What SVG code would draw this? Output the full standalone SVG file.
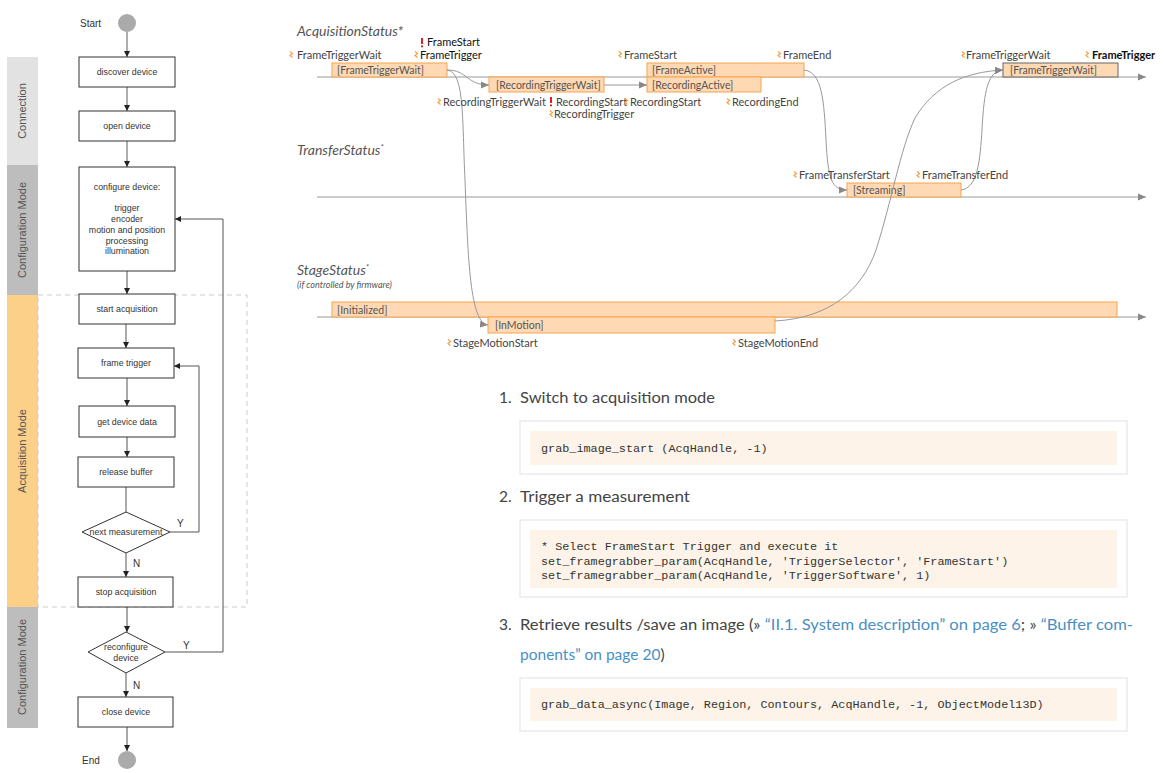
<svg xmlns="http://www.w3.org/2000/svg" xmlns:xlink="http://www.w3.org/1999/xlink" width="1171" height="773" viewBox="0 0 1171 773">
<style>
.fbox{fill:#fff;stroke:#333;stroke-width:1}
.ft{font-family:"Liberation Sans",Arial,sans-serif;font-size:8.8px;fill:#333;text-anchor:middle}
.fl{font-family:"Liberation Sans",Arial,sans-serif;font-size:10px;fill:#333}
.lane{font-family:"Liberation Sans",Arial,sans-serif;font-size:11px;fill:#555;text-anchor:middle}
.fc{fill:none;stroke:#555;stroke-width:1}
.fcg{fill:none;stroke:#999;stroke-width:1.6}
.axis{fill:none;stroke:#999;stroke-width:1.2}
.cv{fill:none;stroke:#999;stroke-width:1}
.sb{fill:#fed9b4;stroke:#f7a34e;stroke-width:1}
.sb2{fill:#fed9b4;stroke:#666;stroke-width:1}
.bt{font-family:Lato,"Open Sans",sans-serif;font-size:10.5px;fill:#555}
.ev{font-family:Lato,"Open Sans",sans-serif;font-size:11px;fill:#444}
.evd{font-family:Lato,"Open Sans",sans-serif;font-size:11px;fill:#111}
.tt{font-family:Lato,"Open Sans",sans-serif;font-size:14px;font-style:italic;fill:#555}
.st{font-family:Lato,"Open Sans",sans-serif;font-size:9px;font-style:italic;fill:#555}
.li{font-family:Lato,"Open Sans",sans-serif;font-size:15.5px;fill:#444}
.lk{fill:#4a8fc6}
.cout{fill:#fff;stroke:#e6e6e6;stroke-width:1.2}
.cin{fill:#fdf3e8}
.code{font-family:"Liberation Mono","DejaVu Sans Mono",monospace;font-size:11.8px;fill:#333}
</style>
<defs>
<marker id="fa" viewBox="0 0 6 6" refX="6" refY="3" markerWidth="6" markerHeight="6" orient="auto" markerUnits="userSpaceOnUse"><path d="M0,0 L6,3 L0,6 Z" fill="#222"/></marker>
<marker id="ga" viewBox="0 0 8 8" refX="8" refY="4" markerWidth="8" markerHeight="8" orient="auto" markerUnits="userSpaceOnUse"><path d="M0,0.5 L8,4 L0,7.5 Z" fill="#888"/></marker>
<g id="evo"><path d="M0,-3.5 L2.5,-1.5 L0,0.5 L2.5,2.5" fill="none" stroke="#f5a04a" stroke-width="1.2"/></g>
<g id="evr"><rect x="0" y="-5" width="2" height="6" fill="#e02020"/><rect x="0" y="2.5" width="2" height="1.8" fill="#e02020"/></g>
</defs>

<!-- lanes -->
<g id="lanes">
<rect x="7" y="57" width="31" height="108" fill="#e2e2e2"/>
<rect x="7" y="165" width="31" height="130" fill="#bdbdbd"/>
<rect x="7" y="295" width="31" height="312" fill="#fdd08a"/>
<rect x="7" y="607" width="31" height="121" fill="#bdbdbd"/>
<rect x="38" y="295" width="209" height="312" fill="none" stroke="#ccc" stroke-width="1" stroke-dasharray="5,4"/>
<text class="lane" transform="translate(26,111) rotate(-90)">Connection</text>
<text class="lane" transform="translate(26,230) rotate(-90)">Configuration Mode</text>
<text class="lane" transform="translate(26,451) rotate(-90)">Acquisition Mode</text>
<text class="lane" transform="translate(26,667) rotate(-90)">Configuration Mode</text>
</g>

<!-- flowchart connectors -->
<g id="flow-connectors">
<line class="fcg" x1="127" y1="32" x2="127" y2="57" marker-end="url(#fa)"/>
<line class="fcg" x1="127" y1="87" x2="127" y2="111" marker-end="url(#fa)"/>
<line class="fcg" x1="127" y1="141" x2="127" y2="167" marker-end="url(#fa)"/>
<line class="fc" x1="127" y1="271" x2="127" y2="294" marker-end="url(#fa)"/>
<line class="fc" x1="126" y1="324" x2="126" y2="348" marker-end="url(#fa)"/>
<line class="fc" x1="127" y1="378" x2="127" y2="406" marker-end="url(#fa)"/>
<line class="fc" x1="127" y1="437" x2="127" y2="457" marker-end="url(#fa)"/>
<line class="fc" x1="126" y1="487" x2="126" y2="512"/>
<path class="fc" d="M170,532 H199 V366 H174" marker-end="url(#fa)"/>
<line class="fc" x1="126" y1="553" x2="126" y2="577" marker-end="url(#fa)"/>
<line class="fc" x1="127" y1="607" x2="127" y2="632" marker-end="url(#fa)"/>
<path class="fc" d="M165,652 H223 V219 H175" marker-end="url(#fa)"/>
<line class="fc" x1="126" y1="673" x2="126" y2="697" marker-end="url(#fa)"/>
<line class="fc" x1="127" y1="727" x2="127" y2="751" marker-end="url(#fa)"/>
<text class="fl" x="177" y="527">Y</text>
<text class="fl" x="133" y="567">N</text>
<text class="fl" x="183" y="649">Y</text>
<text class="fl" x="133" y="689">N</text>
</g>

<!-- flowchart nodes -->
<g id="start"><circle cx="127" cy="23" r="9" fill="#aaa"/><text class="fl" x="80" y="27">Start</text></g>
<g id="discover"><rect class="fbox" x="79" y="57" width="96" height="30"/><text class="ft" x="127" y="75">discover device</text></g>
<g id="open"><rect class="fbox" x="79" y="111" width="96" height="30"/><text class="ft" x="127" y="129">open device</text></g>
<g id="configure"><rect class="fbox" x="79" y="167" width="96" height="104"/>
<text class="ft" x="127" y="190">configure device:</text>
<text class="ft" x="127" y="211">trigger</text>
<text class="ft" x="127" y="222">encoder</text>
<text class="ft" x="127" y="233">motion and position</text>
<text class="ft" x="127" y="244">processing</text>
<text class="ft" x="127" y="254">illumination</text></g>
<g id="startacq"><rect class="fbox" x="79" y="294" width="96" height="30"/><text class="ft" x="127" y="312">start acquisition</text></g>
<g id="frametrigger"><rect class="fbox" x="78" y="348" width="96" height="30"/><text class="ft" x="126" y="366">frame trigger</text></g>
<g id="getdata"><rect class="fbox" x="79" y="406" width="96" height="31"/><text class="ft" x="127" y="425">get device data</text></g>
<g id="release"><rect class="fbox" x="78" y="457" width="96" height="30"/><text class="ft" x="126" y="475">release buffer</text></g>
<g id="nextmeas"><path class="fbox" d="M126,512 L170,532 L126,553 L82,532 Z"/><text class="ft" x="126" y="535">next measurement</text></g>
<g id="stopacq"><rect class="fbox" x="78" y="577" width="95" height="30"/><text class="ft" x="126" y="595">stop acquisition</text></g>
<g id="reconf"><path class="fbox" d="M126,632 L165,652 L126,673 L88,652 Z"/><text class="ft" x="126" y="650">reconfigure</text><text class="ft" x="126" y="661">device</text></g>
<g id="close"><rect class="fbox" x="78" y="697" width="95" height="30"/><text class="ft" x="126" y="715">close device</text></g>
<g id="end"><circle cx="127" cy="760" r="9" fill="#aaa"/><text class="fl" x="82" y="764">End</text></g>

<!-- timing axes -->
<g id="axes">
<line class="axis" x1="317" y1="77" x2="1146" y2="77" marker-end="url(#ga)"/>
<line class="axis" x1="317" y1="197" x2="1146" y2="197" marker-end="url(#ga)"/>
<line class="axis" x1="317" y1="317" x2="1146" y2="317" marker-end="url(#ga)"/>
<text class="tt" x="297" y="36">AcquisitionStatus*</text>
<text class="tt" x="297" y="155">TransferStatus<tspan font-size="8" dy="-5">*</tspan></text>
<text class="tt" x="297" y="275">StageStatus<tspan font-size="8" dy="-5">*</tspan></text>
<text class="st" x="297" y="288">(if controlled by firmware)</text>
</g>

<!-- state boxes -->
<g id="s-ftw1"><rect class="sb" x="332" y="63" width="115" height="14"/><text class="bt" x="337" y="74">[FrameTriggerWait]</text></g>
<g id="s-rtw"><rect class="sb" x="489" y="77" width="115" height="15"/><text class="bt" x="496" y="88.5">[RecordingTriggerWait]</text></g>
<g id="s-fa"><rect class="sb" x="647" y="63" width="157" height="14"/><text class="bt" x="652" y="74">[FrameActive]</text></g>
<g id="s-ra"><rect class="sb" x="647" y="77" width="114" height="15"/><text class="bt" x="652" y="88.5">[RecordingActive]</text></g>
<g id="s-ftw2"><rect class="sb2" x="1003" y="63" width="115" height="14"/><text class="bt" x="1010" y="74">[FrameTriggerWait]</text></g>
<g id="s-stream"><rect class="sb" x="847" y="183" width="114" height="14"/><text class="bt" x="853" y="194">[Streaming]</text></g>
<g id="s-init"><rect class="sb" x="332" y="302" width="785" height="15"/><text class="bt" x="337" y="313.5">[Initialized]</text></g>
<g id="s-motion"><rect class="sb" x="488" y="317" width="287" height="16"/><text class="bt" x="495" y="329">[InMotion]</text></g>

<!-- timing connectors -->
<g id="timing-connectors">
<path class="cv" d="M447,70 C468,70 466,85 489,85" marker-end="url(#ga)"/>
<path class="cv" d="M604,85 H647" marker-end="url(#ga)"/>
<path class="cv" d="M447,70 C465,72 462,120 465,180 C468,260 470,323 488,325" marker-end="url(#ga)"/>
<path class="cv" d="M804,70 C822,72 824,100 826,140 C828,180 832,190 847,190" marker-end="url(#ga)"/>
<path class="cv" d="M961,190 C978,188 980,160 982,130 C984,90 988,71 1003,70" marker-end="url(#ga)"/>
<path class="cv" d="M775,321 C830,318 862,290 876,250 C892,200 900,150 915,118 C935,85 965,72 1003,70" marker-end="url(#ga)"/>
</g>

<!-- event labels -->
<g id="events">
<use xlink:href="#evo" x="290" y="55"/><text class="ev" x="297" y="59">FrameTriggerWait</text>
<use xlink:href="#evr" x="421" y="43"/><text class="evd" x="427" y="46">FrameStart</text>
<use xlink:href="#evo" x="415" y="55"/><text class="evd" x="420" y="59">FrameTrigger</text>
<use xlink:href="#evo" x="619" y="55"/><text class="ev" x="624" y="59">FrameStart</text>
<use xlink:href="#evo" x="778" y="55"/><text class="ev" x="783" y="59">FrameEnd</text>
<use xlink:href="#evo" x="962" y="55"/><text class="ev" x="966" y="59">FrameTriggerWait</text>
<use xlink:href="#evo" x="1086" y="55"/><text class="evd" x="1092" y="59" font-weight="bold">FrameTrigger</text>
<use xlink:href="#evo" x="438" y="102"/><text class="ev" x="443" y="106">RecordingTriggerWait</text>
<use xlink:href="#evr" x="550" y="102"/><text class="ev" x="556" y="106">RecordingStart</text>
<use xlink:href="#evo" x="550" y="114"/><text class="ev" x="554" y="118">RecordingTrigger</text>
<use xlink:href="#evo" x="625" y="102"/><text class="ev" x="630" y="106">RecordingStart</text>
<use xlink:href="#evo" x="727" y="102"/><text class="ev" x="732" y="106">RecordingEnd</text>
<use xlink:href="#evo" x="794" y="175"/><text class="ev" x="799" y="179">FrameTransferStart</text>
<use xlink:href="#evo" x="917" y="175"/><text class="ev" x="922" y="179">FrameTransferEnd</text>
<use xlink:href="#evo" x="448" y="343"/><text class="ev" x="453" y="347">StageMotionStart</text>
<use xlink:href="#evo" x="733" y="343"/><text class="ev" x="738" y="347">StageMotionEnd</text>
</g>

<!-- instructions -->
<g id="step1">
<text class="li" x="499" y="403">1.</text>
<text class="li" x="520" y="403" textLength="195" lengthAdjust="spacingAndGlyphs">Switch to acquisition mode</text>
<rect class="cout" x="520" y="421" width="607" height="53"/>
<rect class="cin" x="530" y="431" width="587" height="34"/>
<text class="code" x="541" y="452">grab_image_start (AcqHandle, -1)</text>
</g>
<g id="step2">
<text class="li" x="499" y="502">2.</text>
<text class="li" x="520" y="502" textLength="170" lengthAdjust="spacingAndGlyphs">Trigger a measurement</text>
<rect class="cout" x="520" y="520" width="607" height="77"/>
<rect class="cin" x="530" y="530" width="587" height="58"/>
<text class="code" x="541" y="550">* Select FrameStart Trigger and execute it</text>
<text class="code" x="541" y="565">set_framegrabber_param(AcqHandle, 'TriggerSelector', 'FrameStart')</text>
<text class="code" x="541" y="579">set_framegrabber_param(AcqHandle, 'TriggerSoftware', 1)</text>
</g>
<g id="step3">
<text class="li" x="499" y="630">3.</text>
<text class="li" x="520" y="630" textLength="613" lengthAdjust="spacingAndGlyphs">Retrieve results /save an image (» <tspan class="lk">“II.1. System description” on page 6</tspan>; » <tspan class="lk">“Buffer com-</tspan></text>
<text class="li" x="520" y="660"><tspan class="lk">ponents” on page 20</tspan>)</text>
<rect class="cout" x="520" y="678" width="607" height="53"/>
<rect class="cin" x="530" y="688" width="587" height="33"/>
<text class="code" x="541" y="708">grab_data_async(Image, Region, Contours, AcqHandle, -1, ObjectModel13D)</text>
</g>
</svg>
